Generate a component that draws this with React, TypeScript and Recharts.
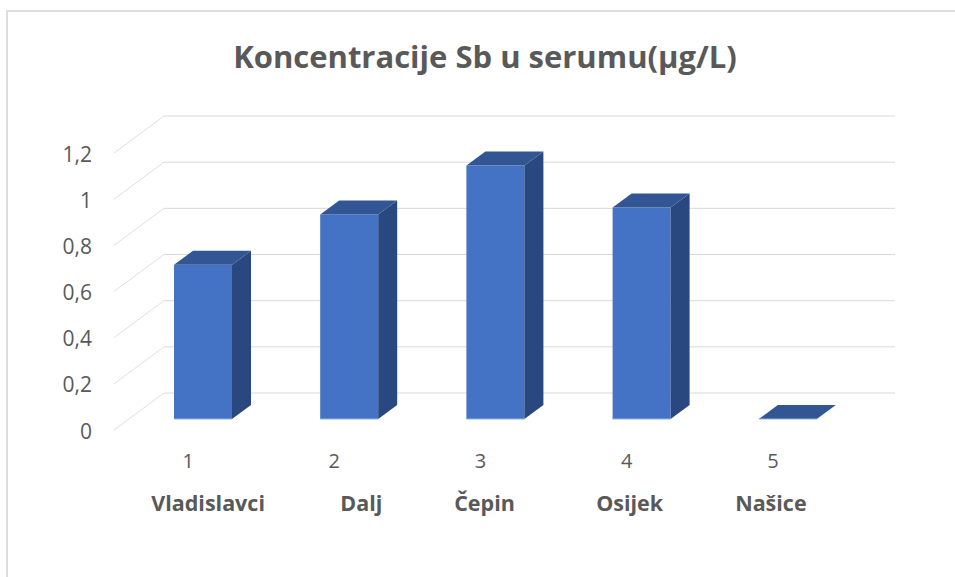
import { BarChart, Bar, XAxis, YAxis, CartesianGrid } from "recharts";

const towns = ["Vladislavci", "Dalj", "Čepin", "Osijek", "Našice"];
const indexes = ["1", "2", "3", "4", "5"];
const serum = [0.668, 0.886, 1.098, 0.916, 0];
const yTicks = [0, 0.2, 0.4, 0.6, 0.8, 1, 1.2];

// the labels under the bars are not evenly spaced in the original
const townNudge = [-29, -22, -45, -46, -51];

const data = towns.map((town, i) => ({ town, index: indexes[i], value: serum[i] }));

const FONT = "'Open Sans', sans-serif";
const DEPTH_X = 19;
const DEPTH_Y = 14;
const SHIFT_X = -34;
const SHIFT_Y = 26;

function Box3D(props: any) {
  const { x, y, width, height } = props;
  const l = x + SHIFT_X;
  const r = l + width;
  const t = y + SHIFT_Y;
  const b = t + height;
  const dx = DEPTH_X;
  const dy = DEPTH_Y;
  return (
    <g>
      {height > 0 && <rect x={l} y={t} width={width} height={height} fill="#4472c4" />}
      {height > 0 && (
        <polygon points={`${r},${t} ${r + dx},${t - dy} ${r + dx},${b - dy} ${r},${b}`} fill="#29487f" />
      )}
      <polygon points={`${l},${t} ${l + dx},${t - dy} ${r + dx},${t - dy} ${r},${t}`} fill="#325694" />
      <line x1={l} x2={r} y1={b} y2={b} stroke="#8db4ea" strokeWidth={1} />
    </g>
  );
}

function WallTick(props: any) {
  const { x, y, payload } = props;
  const wallX = x + 8;
  return (
    <g>
      <line x1={wallX} y1={y} x2={wallX - 50} y2={y + 37} stroke="#e0e0e0" strokeWidth={1} />
      <text x={92} y={y + 38} dy="0.36em" textAnchor="end" fontSize={21} fontFamily={FONT} fill="#595959">
        {String(payload.value).replace(".", ",")}
      </text>
    </g>
  );
}

function TownTick(props: any) {
  const { x, y, index } = props;
  return (
    <g>
      <text x={x - 49} y={y + 60} dy="0.36em" textAnchor="middle" fontSize={20} fontFamily={FONT} fill="#595959">
        {indexes[index]}
      </text>
      <text x={x + townNudge[index]} y={y + 102} dy="0.36em" textAnchor="middle" fontSize={21.5} fontWeight={700} fontFamily={FONT} fill="#595959">
        {towns[index]}
      </text>
    </g>
  );
}

export default function App() {
  return (
    <div style={{ position: "absolute", left: 0, top: 0, width: 955, height: 577, background: "#fff", overflow: "hidden" }}>
      <div style={{ position: "absolute", left: 6, top: 10, width: 1000, height: 700, border: "2px solid #dedede" }} />
      <div
        style={{
          position: "absolute",
          left: 0,
          top: 35,
          width: 970,
          textAlign: "center",
          fontFamily: FONT,
          fontSize: 31,
          fontWeight: 700,
          lineHeight: "42px",
          color: "#595959",
        }}
      >
        Koncentracije Sb u serumu(µg/L)
      </div>
      <div style={{ position: "absolute", left: 0, top: 0 }}>
        <BarChart width={955} height={577} data={data} margin={{ top: 116, right: 60, bottom: 0, left: 0 }} barCategoryGap={0}>
          <CartesianGrid vertical={false} stroke="#d9d9d9" strokeWidth={1} />
          <XAxis dataKey="town" height={184} axisLine={false} tickLine={false} interval={0} tick={<TownTick />} />
          <YAxis
            width={164}
            domain={[0, 1.2]}
            ticks={yTicks}
            interval={0}
            axisLine={false}
            tickLine={false}
            tick={<WallTick />}
          />
          <Bar dataKey="value" barSize={58} isAnimationActive={false} shape={<Box3D />} />
        </BarChart>
      </div>
    </div>
  );
}
